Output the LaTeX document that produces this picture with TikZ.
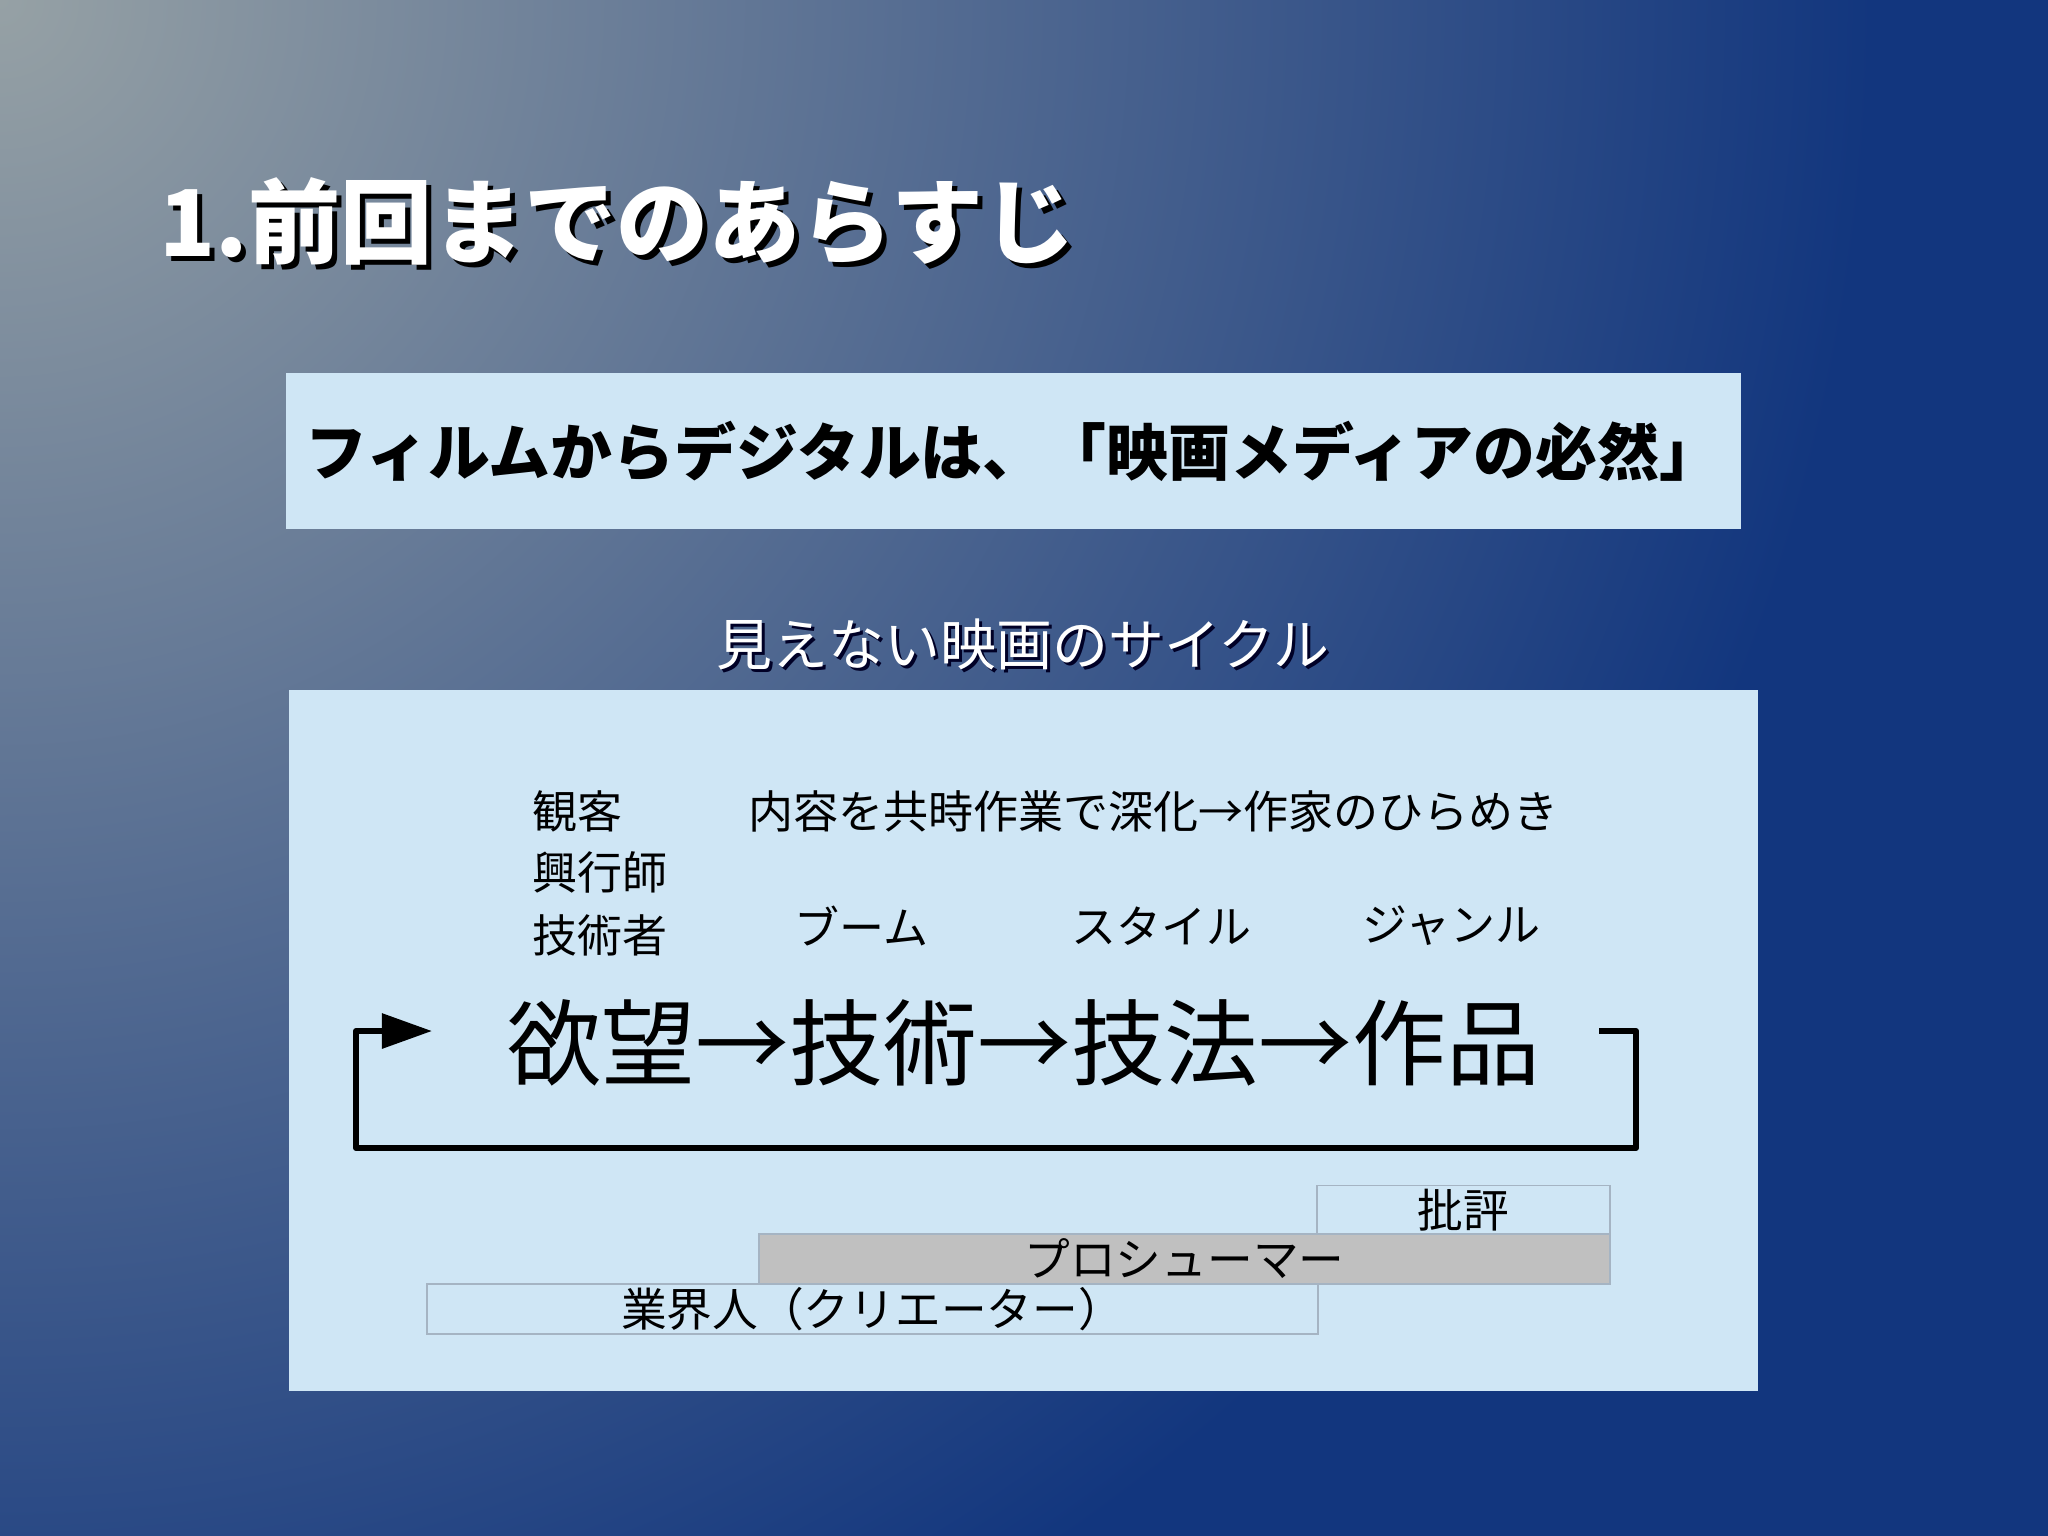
\documentclass[tikz,border=0pt]{standalone}
\usepackage{fontspec}
\setmainfont{Noto Sans CJK JP}
\usepackage{tikz}
\usetikzlibrary{arrows.meta}
\definecolor{bggray}{RGB}{150,161,165}
\definecolor{bgnavy}{RGB}{18,54,126}
\definecolor{panelblue}{RGB}{207,230,245}
\definecolor{barline}{RGB}{165,180,195}
\definecolor{bargray}{RGB}{192,192,192}
\pgfdeclareradialshading{bgshade}{\pgfpointorigin}{color(0bp)=(bggray); color(18bp)=(bgnavy); color(50bp)=(bgnavy)}

\begin{document}
\begin{tikzpicture}[x=0.01cm, y=-0.01cm,
    panel/.style = {fill=panelblue, inner sep=0pt, outer sep=0pt},
    bar/.style = {draw=barline, line width=0.5pt, fill=panelblue, inner sep=0pt, outer sep=0pt, minimum height=0.49cm, font=\fontsize{13}{15}\selectfont},
    lbl/.style = {anchor=west, inner sep=0pt, font=\fontsize{12.8}{15}\selectfont},
    cycleline/.style = {line width=0.06cm, line join=round, -{Triangle[length=0.5cm, width=0.34cm]}}]
    \useasboundingbox (0,0) rectangle (2048,1535);
    \begin{scope}
        \clip (0,0) rectangle (2048,1535);
        \fill[bgnavy] (0,0) rectangle (2048,1535);
        \shade[shading=bgshade] (0,0) circle (26cm);
    \end{scope}
    \node[anchor=west, inner sep=0pt, font=\fontsize{26.2}{30}\selectfont\bfseries, text=black] (titlesh) at (164,227) {1.前回までのあらすじ};
    \node[anchor=west, inner sep=0pt, font=\fontsize{26.2}{30}\selectfont\bfseries, text=white] (title) at (159,222) {1.前回までのあらすじ};
    \node[panel, minimum width=14.55cm, minimum height=1.56cm, font=\fontsize{17.6}{20}\selectfont\bfseries] (msg) at (1013.5,451) {フィルムからデジタルは、「映画メディアの必然」};
    \node[inner sep=0pt, font=\fontsize{15.9}{18}\selectfont, text=black!85!blue] (subsh) at (1026,647) {見えない映画のサイクル};
    \node[inner sep=0pt, font=\fontsize{15.9}{18}\selectfont, text=white] (sub) at (1023,644) {見えない映画のサイクル};
    \node[panel, minimum width=14.69cm, minimum height=7.01cm] (cyc) at (1023.5,1040.5) {};
    \node[lbl] (1) at (532,811) {観客};
    \node[lbl] (2) at (532,872) {興行師};
    \node[lbl] (3) at (532,935) {技術者};
    \node[lbl] (4) at (748,811) {内容を共時作業で深化→作家のひらめき};
    \node[lbl] (5) at (794,926) {ブーム};
    \node[lbl] (6) at (1071,926) {スタイル};
    \node[lbl] (7) at (1362,926) {ジャンル};
    \node[anchor=west, inner sep=0pt, font=\fontsize{26.7}{30}\selectfont] (main) at (507,1043) {欲望→技術→技法→作品};
    \coordinate (r0) at (1599,1031);
    \coordinate (r1) at (1636,1148);
    \coordinate (l1) at (356,1031);
    \coordinate (l0) at (432,1031);
    \draw[cycleline] (r0) -| (r1) -| (l1) -- (l0);
    \node[bar, minimum width=2.93cm] (crit) at (1463.5,1210) {批評};
    \node[bar, fill=bargray, minimum width=8.51cm, minimum height=0.5cm] (pros) at (1184.5,1259) {プロシューマー};
    \node[bar, minimum width=8.91cm, minimum height=0.5cm] (ind) at (872.5,1309) {業界人（クリエーター）};
\end{tikzpicture}
\end{document}
